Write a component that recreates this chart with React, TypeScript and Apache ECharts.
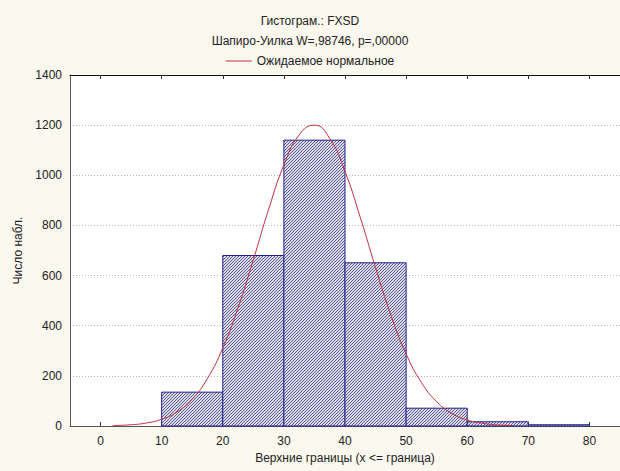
import React, { useEffect, useRef } from "react";
import * as echarts from "echarts";

const titleLines = ["Гистограм.: FXSD", "Шапиро-Уилка W=,98746, p=,00000"];
const legendName = "Ожидаемое нормальное";
const xAxisName = "Верхние границы (x <= граница)";
const yAxisName = "Число набл.";

const binStarts = [0, 10, 20, 30, 40, 50, 60, 70];
const binWidth = 10;
const counts = [0, 135, 680, 1140, 651, 71, 17, 5];

const curveX = [2, 5, 7.5, 10, 12.5, 15, 17.5, 20, 22.5, 25, 27.5, 30, 32.5, 35, 37.5, 40, 42.5, 45, 47.5, 50, 52.5, 55, 57.5, 60, 62.5, 65, 67.5];
const curveY = [2, 5, 12, 27, 56, 107, 190, 311, 472, 663, 864, 1041, 1161, 1200, 1147, 1015, 832, 632, 443, 288, 174, 97, 50, 24, 11, 4, 2];

const xTicks = [0, 10, 20, 30, 40, 50, 60, 70, 80];

export default function App() {
  const ref = useRef<HTMLDivElement>(null);
  useEffect(() => {
    if (!ref.current) return;
    const chart = echarts.init(ref.current, null, { renderer: "svg" });
    const font = "'Liberation Sans', Arial, sans-serif";
    const histData = binStarts.map((s, i) => [s, s + binWidth, counts[i]]);
    const curveData = curveX.map((x, i) => [x, curveY[i]]);

    chart.setOption({
      animation: false,
      backgroundColor: "#fbf8ef",
      textStyle: { fontFamily: font },
      title: {
        text: titleLines.join("\n"),
        left: "center",
        top: 6,
        textStyle: { fontSize: 12, fontWeight: "normal", color: "#222", lineHeight: 20, fontFamily: font },
      },
      legend: {
        top: 50,
        left: "center",
        data: [{ name: legendName, icon: "rect" }],
        itemWidth: 26,
        itemHeight: 1,
        textStyle: { fontSize: 12, color: "#222", fontFamily: font },
      },
      grid: {
        left: 70,
        right: 0,
        top: 75,
        bottom: 45,
        show: true,
        backgroundColor: "#ffffff",
        borderWidth: 0,
      },
      xAxis: [
        {
          type: "value",
          min: -5,
          max: 85,
          position: "bottom",
          name: xAxisName,
          nameLocation: "middle",
          nameGap: 26,
          nameTextStyle: { fontSize: 12, color: "#222", fontFamily: font },
          axisLine: { show: true, onZero: false, lineStyle: { color: "#555", width: 1 } },
          axisTick: { show: true, inside: true, length: 4, customValues: xTicks, lineStyle: { color: "#333" } },
          axisLabel: { show: true, customValues: xTicks, fontSize: 12, color: "#222", margin: 9, fontFamily: font },
          splitLine: { show: false },
        },
        {
          type: "value",
          min: -5,
          max: 85,
          position: "top",
          axisLine: { show: true, onZero: false, lineStyle: { color: "#111", width: 1 } },
          axisTick: { show: true, inside: true, length: 4, customValues: xTicks, lineStyle: { color: "#333" } },
          axisLabel: { show: false },
          splitLine: { show: false },
        },
      ],
      yAxis: {
        type: "value",
        min: 0,
        max: 1400,
        interval: 200,
        name: yAxisName,
        nameLocation: "middle",
        nameGap: 42,
        nameTextStyle: { fontSize: 12, color: "#222", fontFamily: font },
        axisLine: { show: true, onZero: false, lineStyle: { color: "#555", width: 1 } },
        axisTick: { show: false },
        axisLabel: { fontSize: 12, color: "#222", margin: 8, fontFamily: font, formatter: (v: number) => String(v) },
        splitLine: { show: true, lineStyle: { color: "#b8b8b8", type: [1, 2], width: 1 } },
      },
      series: [
        {
          type: "custom",
          name: "hist",
          xAxisIndex: 0,
          z: 2,
          encode: { x: [0, 1], y: 2 },
          data: histData,
          renderItem: (params: any, api: any) => {
            const s = api.value(0);
            const e = api.value(1);
            const v = api.value(2);
            if (!v) return null;
            const p0 = api.coord([s, v]);
            const p1 = api.coord([e, 0]);
            const x0 = p0[0], y0 = p0[1], x1 = p1[0], y1 = p1[1];
            const children: any[] = [
              { type: "rect", shape: { x: x0, y: y0, width: x1 - x0, height: y1 - y0 }, style: { fill: "#dcdce8" } },
            ];
            const step = 3;
            const cStart = Math.ceil((x0 + y0) / step) * step;
            for (let c = cStart; c <= x1 + y1; c += step) {
              const ax = Math.max(x0, c - y1);
              const bx = Math.min(x1, c - y0);
              if (ax > bx) continue;
              children.push({
                type: "line",
                shape: { x1: ax, y1: c - ax, x2: bx, y2: c - bx },
                style: { stroke: "#5a5a94", lineWidth: 1 },
              });
            }
            children.push({
              type: "rect",
              shape: { x: x0, y: y0, width: x1 - x0, height: y1 - y0 },
              style: { fill: "none", stroke: "#22228c", lineWidth: 1 },
            });
            return { type: "group", children };
          },
        },
        {
          type: "line",
          name: legendName,
          xAxisIndex: 0,
          z: 5,
          data: curveData,
          smooth: true,
          showSymbol: false,
          symbol: "none",
          color: "#c0303c",
          lineStyle: { color: "#c0303c", width: 1 },
          itemStyle: { color: "#c0303c" },
        },
      ],
    });
    return () => chart.dispose();
  }, []);
  return <div ref={ref} style={{ position: "fixed", left: 0, top: 0, width: 620, height: 471 }} />;
}
